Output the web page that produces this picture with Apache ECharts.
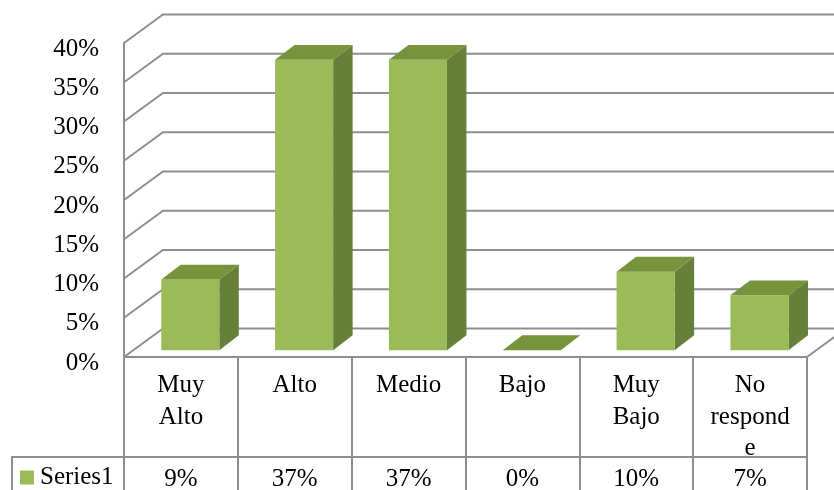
<!DOCTYPE html>
<html>
<head>
<meta charset="utf-8">
<script src="https://cdn.jsdelivr.net/npm/echarts@6/dist/echarts.min.js"></script>
<style>
  html, body { margin: 0; padding: 0; background: #fff; }
  #chart { width: 834px; height: 490px; }
</style>
</head>
<body>
<div id="chart"></div>
<script>
// Categories (line breaks as they wrap in the data table)
const categories = ['Muy\nAlto', 'Alto', 'Medio', 'Bajo', 'Muy\nBajo', 'No\nrespond\ne'];
// Series1 values (fractions)
const series1 = [0.09, 0.37, 0.37, 0.00, 0.10, 0.07];
// Value-axis ticks
const yTicks = [0, 0.05, 0.10, 0.15, 0.20, 0.25, 0.30, 0.35, 0.40];
const seriesName = 'Series1';

const FONT = '"Liberation Serif", "Times New Roman", serif';
const GRID_COLOR = '#8E8E8E';
const FRONT = '#9BBB59';
const SIDE = '#66803A';
const TOP = '#77933C';
// Perspective depth of the floor / walls
const DEPTH_X = 39;
const DEPTH_Y = -28.5;
const ROW_SPLIT = 100; // category row height of the data table

const pct = v => Math.round(v * 100) + '%';

const chart = echarts.init(document.getElementById('chart'), null, { renderer: 'canvas' });

chart.setOption({
  backgroundColor: '#ffffff',
  animation: false,
  grid: { left: 124, right: 27, top: 43, bottom: 133 },
  legend: {
    data: [seriesName],
    left: 20,
    top: 465,
    padding: 0,
    icon: 'rect',
    itemWidth: 14,
    itemHeight: 14,
    textStyle: { fontFamily: FONT, fontSize: 25, color: '#000', padding: [0, 0, 0, 1] },
    selectedMode: false
  },
  xAxis: {
    type: 'category',
    data: categories,
    axisLine: { show: true, lineStyle: { color: GRID_COLOR, width: 2 } },
    axisTick: { show: true, interval: 0, length: 135, lineStyle: { color: GRID_COLOR, width: 2 } },
    axisLabel: {
      interval: 0,
      margin: 13,
      fontFamily: FONT,
      fontSize: 25,
      lineHeight: 31.5,
      color: '#000',
      align: 'center'
    },
    splitLine: { show: false }
  },
  yAxis: {
    type: 'value',
    min: 0,
    max: 0.4,
    interval: 0.05,
    axisLine: { show: true, lineStyle: { color: GRID_COLOR, width: 2 } },
    axisTick: { show: false },
    splitLine: { show: false },
    axisLabel: {
      margin: 25,
      verticalAlign: 'top',
      lineHeight: 12,
      fontFamily: FONT,
      fontSize: 25,
      color: '#000',
      formatter: v => pct(v)
    }
  },
  series: [
    {
      // walls: left-wall diagonals and back-wall gridlines, plus floor edge
      type: 'custom',
      z: 1,
      silent: true,
      data: yTicks.map(v => [0, v]),
      renderItem: (params, api) => {
        const v = api.value(1);
        const band = api.size([1, 0])[0];
        const p = api.coord([0, v]);
        const x0 = p[0] - band / 2;
        const cs = params.coordSys;
        const xEnd = cs.x + cs.width + DEPTH_X;
        const children = [{
          type: 'polyline',
          shape: { points: [[x0, p[1]], [x0 + DEPTH_X, p[1] + DEPTH_Y], [xEnd, p[1] + DEPTH_Y]] },
          style: { stroke: GRID_COLOR, lineWidth: 2, fill: null }
        }];
        if (v === 0) {
          const xr = cs.x + cs.width;
          children.push({
            type: 'line',
            shape: { x1: xr, y1: p[1], x2: xr + DEPTH_X, y2: p[1] + DEPTH_Y },
            style: { stroke: GRID_COLOR, lineWidth: 2 }
          });
        }
        return { type: 'group', children };
      }
    },
    {
      name: seriesName,
      type: 'custom',
      z: 3,
      itemStyle: { color: FRONT },
      data: series1.map((v, i) => [i, v]),
      renderItem: (params, api) => {
        const i = api.value(0);
        const v = api.value(1);
        const base = api.coord([i, 0]);
        const top = api.coord([i, v]);
        const band = api.size([1, 0])[0];
        const w = band * 0.51;
        const fx = DEPTH_X * 0.24, fy = DEPTH_Y * 0.24;
        const dx = DEPTH_X * 0.5, dy = DEPTH_Y * 0.52;
        const cx = base[0] + fx;
        const by = base[1] + fy;
        const ty = top[1] + fy;
        const l = cx - w / 2, r = cx + w / 2;
        return {
          type: 'group',
          children: [
            {
              type: 'polygon',
              shape: { points: [[r, by], [r, ty], [r + dx, ty + dy], [r + dx, by + dy]] },
              style: { fill: SIDE }
            },
            {
              type: 'rect',
              shape: { x: l, y: ty, width: w, height: by - ty },
              style: { fill: FRONT }
            },
            {
              type: 'polygon',
              shape: { points: [[l, ty], [r, ty], [r + dx, ty + dy], [l + dx, ty + dy]] },
              style: { fill: TOP }
            }
          ]
        };
      }
    },
    {
      // data table: value row under the category row
      type: 'custom',
      z: 2,
      silent: true,
      data: series1.map((v, i) => [i, v]),
      renderItem: (params, api) => {
        const i = api.value(0);
        const v = api.value(1);
        const base = api.coord([i, 0]);
        const band = api.size([1, 0])[0];
        const yLine = base[1] + ROW_SPLIT;
        const children = [
          {
            type: 'line',
            shape: { x1: base[0] - band / 2, y1: yLine, x2: base[0] + band / 2, y2: yLine },
            style: { stroke: GRID_COLOR, lineWidth: 2 }
          },
          {
            type: 'text',
            style: {
              text: pct(v),
              x: base[0],
              y: yLine + 22,
              align: 'center',
              verticalAlign: 'middle',
              fontFamily: FONT,
              fontSize: 25,
              fill: '#000'
            }
          }
        ];
        if (i === 0) {
          // legend cell of the table
          const xl = base[0] - band / 2;
          children.push({
            type: 'polyline',
            shape: { points: [[xl, yLine], [12, yLine], [12, yLine + 60]] },
            style: { stroke: GRID_COLOR, lineWidth: 2, fill: null }
          });
        }
        return { type: 'group', children };
      }
    }
  ]
});
</script>
</body>
</html>
